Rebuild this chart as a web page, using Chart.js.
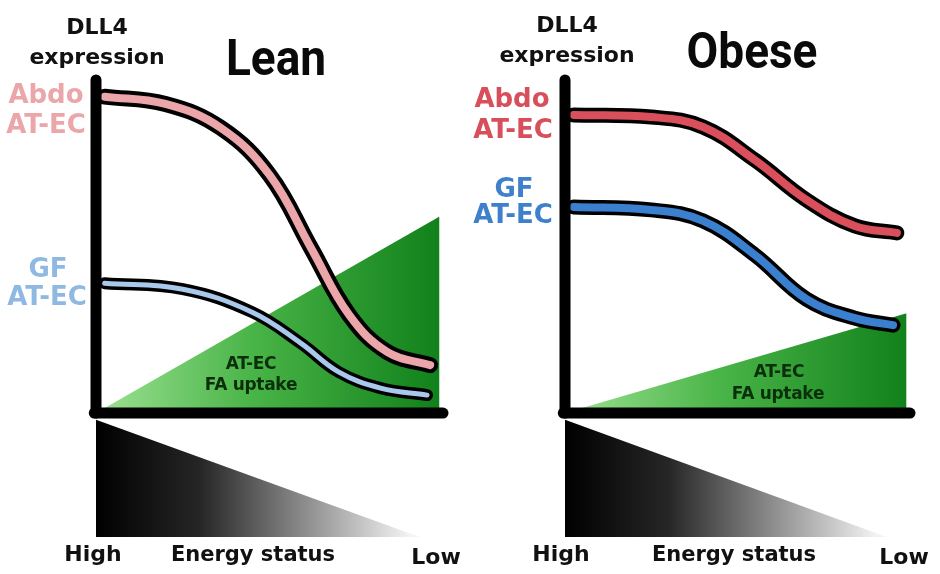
<!DOCTYPE html>
<html>
<head>
<meta charset="utf-8">
<script src="https://cdn.jsdelivr.net/npm/chart.js@4.4.1/dist/chart.umd.min.js"></script>
<style>
  html, body { margin: 0; padding: 0; background: #fff; }
  #wrap { position: relative; width: 940px; height: 574px; overflow: hidden;
          font-family: "DejaVu Sans", sans-serif; font-weight: bold; color: #111; }
  #wrap canvas { position: absolute; top: 0; }
  .t { position: absolute; white-space: nowrap; line-height: 1; transform: translateX(-50%); }
  .title { font-family: Roboto, sans-serif; font-weight: 700; font-size: 50px; color: #0a0a0a;
           transform: translateX(-50%) scaleX(0.92); }
  .ax { font-size: 22px; }
  .lab { font-size: 26px; }
  .fa { font-size: 17px; color: #0b2e0b; letter-spacing: -0.3px; }
  .bot { font-size: 22px; }
</style>
</head>
<body>
<div id="wrap">
  <canvas id="lean" width="470" height="574" style="left:0"></canvas>
  <canvas id="obese" width="470" height="574" style="left:470px"></canvas>

  <div class="t ax" style="left:97px;top:16px">DLL4</div>
  <div class="t ax" style="left:97px;top:46px">expression</div>
  <div class="t title" style="left:276px;top:33px">Lean</div>
  <div class="t lab" style="left:46px;top:81px;color:#eba6aa">Abdo</div>
  <div class="t lab" style="left:46px;top:111px;color:#eba6aa">AT-EC</div>
  <div class="t lab" style="left:48px;top:255px;color:#8fb9e3">GF</div>
  <div class="t lab" style="left:47px;top:283px;color:#8fb9e3">AT-EC</div>
  <div class="t fa" style="left:251px;top:355px">AT-EC</div>
  <div class="t fa" style="left:251px;top:376px">FA uptake</div>
  <div class="t bot" style="left:93px;top:543px">High</div>
  <div class="t bot" style="left:253px;top:544px;font-size:21px">Energy status</div>
  <div class="t bot" style="left:436px;top:546px">Low</div>

  <div class="t ax" style="left:567px;top:14px">DLL4</div>
  <div class="t ax" style="left:567px;top:44px">expression</div>
  <div class="t title" style="left:752px;top:26px">Obese</div>
  <div class="t lab" style="left:512px;top:85px;color:#d64f5a">Abdo</div>
  <div class="t lab" style="left:513px;top:116px;color:#d64f5a">AT-EC</div>
  <div class="t lab" style="left:514px;top:175px;color:#3e80cc">GF</div>
  <div class="t lab" style="left:513px;top:201px;color:#3e80cc">AT-EC</div>
  <div class="t fa" style="left:779px;top:363px">AT-EC</div>
  <div class="t fa" style="left:778px;top:385px">FA uptake</div>
  <div class="t bot" style="left:561px;top:543px">High</div>
  <div class="t bot" style="left:734px;top:544px;font-size:21px">Energy status</div>
  <div class="t bot" style="left:904px;top:546px">Low</div>
</div>

<script>
// energy status runs 0 (high) .. 10 (low); DLL4 expression 0 .. 10, energy wedge below 0
const Y_MIN = -3.72
const Y_MAX = 10

const leanAbdoX = [0.25, 2.0, 3.6, 5.0, 6.2, 7.3, 8.4, 9.63]
const leanAbdoY = [9.5, 9.28, 8.56, 7.15, 4.95, 2.94, 1.83, 1.44]
const leanGfX = [0.25, 2.5, 4.5, 5.9, 7.0, 8.2, 9.54]
const leanGfY = [3.9, 3.72, 3.03, 2.1, 1.23, 0.75, 0.54]

const obeseAbdoX = [0.25, 2.5, 4.0, 5.5, 7.0, 8.4, 9.62]
const obeseAbdoY = [8.95, 8.89, 8.59, 7.6, 6.4, 5.62, 5.41]
const obeseGfX = [0.25, 2.5, 4.0, 5.5, 7.0, 8.4, 9.51]
const obeseGfY = [6.19, 6.1, 5.77, 4.75, 3.42, 2.85, 2.64]

// AT-EC FA uptake wedge: rises from 0 at high energy to this at low energy
const uptakeX = [0, 9.9]
const leanUptakeY = [0, 5.9]
const obeseUptakeY = [0, 3.0]

// energy status wedge under the x axis
const energyX = [0, 9.33]
const energyY = [-0.2, Y_MIN]

function pts(xs, ys) {
  return xs.map((x, i) => ({ x, y: ys[i] }))
}

function hGradient(stops) {
  return (c) => {
    const area = c.chart.chartArea
    if (!area) return null
    const g = c.chart.ctx.createLinearGradient(area.left, 0, area.right, 0)
    stops.forEach(([p, col]) => g.addColorStop(p, col))
    return g
  }
}

// a curve drawn as a coloured core over a wider black outline
function tube(xs, ys, color, outer, inner, order) {
  const base = {
    data: pts(xs, ys),
    tension: 0.4,
    borderCapStyle: "round",
    borderJoinStyle: "round",
    pointRadius: 0,
    fill: false,
    clip: false,
  }
  return [
    { ...base, borderColor: color, borderWidth: inner, order },
    { ...base, borderColor: "#000", borderWidth: outer, order: order + 1 },
  ]
}

function buildChart(id, pad, abdo, gf, uptakeY) {
  const axisLine = {
    borderColor: "#000",
    borderWidth: 11,
    borderCapStyle: "round",
    pointRadius: 0,
    fill: false,
    clip: false,
    order: 0,
  }
  const datasets = [
    { ...axisLine, data: [{ x: 0, y: Y_MAX }, { x: 0, y: 0 }] },
    { ...axisLine, data: [{ x: -0.05, y: 0 }, { x: 10, y: 0 }] },
    ...tube(abdo.x, abdo.y, abdo.color, abdo.outer, abdo.inner, 1),
    ...tube(gf.x, gf.y, gf.color, gf.outer, gf.inner, 3),
    {
      data: pts(uptakeX, uptakeY),
      borderWidth: 0,
      pointRadius: 0,
      fill: "origin",
      backgroundColor: hGradient([[0, "#9ee294"], [0.45, "#49b447"], [1, "#10801a"]]),
      order: 5,
    },
    {
      data: pts(energyX, energyY),
      borderWidth: 0,
      pointRadius: 0,
      fill: "start",
      backgroundColor: hGradient([[0, "#000"], [0.3, "#262626"], [0.9, "#f2f2f2"], [1, "#fff"]]),
      order: 6,
    },
  ]

  return new Chart(document.getElementById(id), {
    type: "line",
    data: { datasets },
    options: {
      responsive: false,
      devicePixelRatio: 1,
      animation: false,
      events: [],
      layout: { padding: pad },
      scales: {
        x: { type: "linear", min: 0, max: 10, display: false },
        y: { min: Y_MIN, max: Y_MAX, display: false },
      },
      plugins: { legend: { display: false }, tooltip: { enabled: false } },
    },
  })
}

buildChart(
  "lean",
  { left: 96, right: 27, top: 80, bottom: 37 },
  { x: leanAbdoX, y: leanAbdoY, color: "#eba6aa", outer: 16, inner: 8 },
  { x: leanGfX, y: leanGfY, color: "#a9c9ec", outer: 12, inner: 5 },
  leanUptakeY
)

buildChart(
  "obese",
  { left: 95, right: 30, top: 80, bottom: 37 },
  { x: obeseAbdoX, y: obeseAbdoY, color: "#d9505c", outer: 15, inner: 8 },
  { x: obeseGfX, y: obeseGfY, color: "#3b7fcf", outer: 15, inner: 8 },
  obeseUptakeY
)
</script>
</body>
</html>
